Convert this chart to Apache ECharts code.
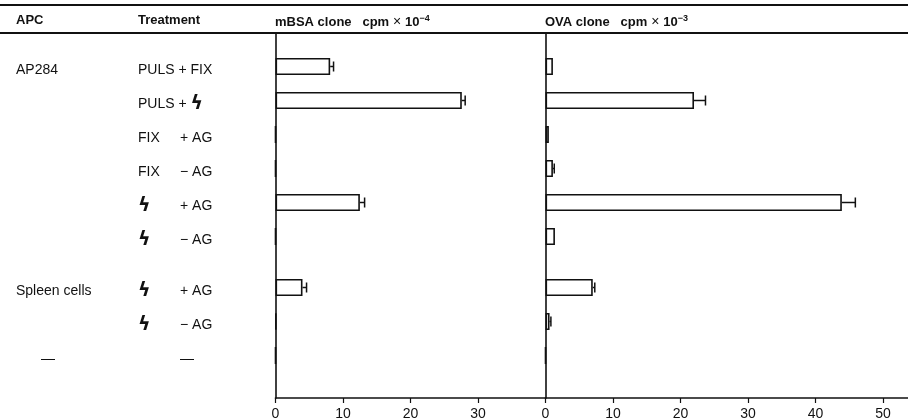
<!DOCTYPE html>
<html>
<head>
<meta charset="utf-8">
<script src="https://cdn.jsdelivr.net/npm/echarts@6/dist/echarts.min.js"></script>
<style>
  html, body { margin: 0; padding: 0; background: #fff; }
  #main { width: 908px; height: 420px; }
</style>
</head>
<body>
<div id="main"></div>
<script>
// rows, top to bottom
var apcLabels = ['AP284', '', '', '', '', '', 'Spleen cells', '', '—'];
var treatA = ['PULS + FIX', 'PULS + ϟ', 'FIX', 'FIX', 'ϟ', 'ϟ', 'ϟ', 'ϟ', ''];
var treatB = ['', '', '+ AG', '− AG', '+ AG', '− AG', '+ AG', '− AG', '—'];
var blocks = [6, 3]; // rows per APC group

// mBSA clone, cpm x 10^-4
var mbsa = [8.1, 27.6, 0, 0, 12.5, 0, 4.0, 0.1, 0];
var mbsaErr = [0.5, 0.5, 0, 0, 0.7, 0, 0.6, 0, 0];
// OVA clone, cpm x 10^-3
var ova = [1.1, 22.0, 0.5, 1.1, 43.9, 1.4, 7.0, 0.6, 0];
var ovaErr = [0, 1.7, 0, 0.2, 2.0, 0, 0.3, 0.2, 0];

var ticksMbsa = [0, 40, 10];
var ticksOva = [0, 53.7, 10];

// half-row slots on the category axis: two blank slots above, a spacer after each row,
// one extra spacer between the groups
var slots = ['p0', 'p1'];
var rowSlot = [];
var r = 0;
blocks.forEach(function (n, b) {
  for (var i = 0; i < n; i++) {
    rowSlot.push(slots.length);
    slots.push('r' + r);
    slots.push('s' + r);
    r++;
  }
  if (b < blocks.length - 1) slots.push('g' + b);
});
slots.push('end');

function toSlots(vals) {
  var out = slots.map(function () { return '-'; });
  vals.forEach(function (v, i) { out[rowSlot[i]] = v; });
  return out;
}
function errData(vals, errs) {
  var out = [];
  vals.forEach(function (v, i) {
    if (errs[i] > 0) out.push([v, rowSlot[i], errs[i]]);
  });
  return out;
}

function boltTok(style, s) {
  return s.split('ϟ').map(function (p) { return p ? '{' + style + '|' + p + '}' : ''; }).join('{z|ϟ}');
}

function rowLabel(key) {
  if (key.charAt(0) !== 'r') return '';
  var i = +key.slice(1);
  var s = '';
  if (apcLabels[i] === '—') s += '{sp| }{ad|—}';
  else s += '{a|' + (apcLabels[i] || ' ') + '}';
  if (treatB[i]) {
    if (treatA[i] === 'ϟ') s += '{zw|ϟ}';
    else s += '{tw|' + (treatA[i] || ' ') + '}';
    s += '{t|' + treatB[i] + '}';
  } else {
    s += boltTok('t', treatA[i]);
  }
  return s;
}

var ink = '#111';
var txt = { fontFamily: 'Liberation Sans, Arial, sans-serif', fontSize: 14, color: ink };

function errSeries(xi, data) {
  return {
    type: 'custom',
    xAxisIndex: xi,
    yAxisIndex: xi,
    data: data,
    encode: { x: 0, y: 1 },
    z: 5,
    renderItem: function (params, api) {
      var a = api.coord([api.value(0), api.value(1)]);
      var b = api.coord([api.value(0) + api.value(2), api.value(1)]);
      var st = { stroke: ink, lineWidth: 1.5 };
      return {
        type: 'group',
        children: [
          { type: 'line', shape: { x1: a[0], y1: a[1], x2: b[0], y2: b[1] }, style: st },
          { type: 'line', shape: { x1: b[0], y1: b[1] - 5, x2: b[0], y2: b[1] + 5 }, style: st }
        ]
      };
    }
  };
}

function barSeries(xi, vals) {
  return {
    type: 'bar',
    xAxisIndex: xi,
    yAxisIndex: xi,
    data: toSlots(vals),
    barWidth: 17,
    itemStyle: { color: '#fff', borderColor: ink, borderWidth: 1.6 },
    silent: true
  };
}

function xAxis(gi, t) {
  return {
    type: 'value',
    gridIndex: gi,
    min: t[0],
    max: t[1],
    interval: t[2],
    axisLine: { show: true, lineStyle: { color: ink, width: 1.6 } },
    axisTick: { show: true, length: 5, lineStyle: { color: ink, width: 1.2 } },
    axisLabel: { showMaxLabel: false, color: ink, fontSize: 14, margin: 9, fontFamily: txt.fontFamily },
    splitLine: { show: false }
  };
}

function yAxis(gi, labels) {
  return {
    type: 'category',
    gridIndex: gi,
    inverse: true,
    data: slots,
    axisLine: { show: true, lineStyle: { color: ink, width: 1.6 } },
    axisTick: { show: false },
    axisLabel: labels ? {
      show: true,
      interval: 0,
      align: 'left',
      margin: 259.5,
      padding: [8, 0, 0, 0],
      formatter: rowLabel,
      rich: {
        a: { width: 122, fontFamily: txt.fontFamily, fontSize: 14, color: ink },
        sp: { width: 25, fontSize: 14 },
        ad: { width: 97, fontFamily: txt.fontFamily, fontSize: 14, color: ink },
        t: { fontFamily: txt.fontFamily, fontSize: 14, color: ink },
        tw: { width: 42, fontFamily: txt.fontFamily, fontSize: 14, color: ink },
        z: { fontFamily: 'DejaVu Sans', fontWeight: 'bold', fontSize: 19, color: ink },
        zw: { width: 42, fontFamily: 'DejaVu Sans', fontWeight: 'bold', fontSize: 19, color: ink }
      }
    } : { show: false },
    splitLine: { show: false }
  };
}

var hdr = { fontFamily: txt.fontFamily, fontSize: 13, fontWeight: 'bold', fill: ink };
function headText(x, text, rich) {
  return { type: 'text', left: x, top: 14, z: 102, style: Object.assign({ text: text, rich: rich }, hdr) };
}
var cpmRich = {
  b: { fontFamily: txt.fontFamily, fontSize: 13, fontWeight: 'bold', color: ink },
  x: { fontFamily: txt.fontFamily, fontSize: 14, color: ink },
  sup: { fontFamily: txt.fontFamily, fontSize: 9, fontWeight: 'bold', color: ink, verticalAlign: 'top', padding: [0, 0, 8, 0] }
};

var chart = echarts.init(document.getElementById('main'), null, { renderer: 'canvas' });
chart.setOption({
  backgroundColor: '#fff',
  animation: false,
  grid: [
    { left: 275.5, top: 24, width: 270, height: 374, outerBoundsMode: 'none', containLabel: false },
    { left: 545.5, top: 24, right: 0, height: 374, outerBoundsMode: 'none', containLabel: false }
  ],
  xAxis: [xAxis(0, ticksMbsa), xAxis(1, ticksOva)],
  yAxis: [yAxis(0, true), yAxis(1, false)],
  series: [
    barSeries(0, mbsa),
    barSeries(1, ova),
    errSeries(0, errData(mbsa, mbsaErr)),
    errSeries(1, errData(ova, ovaErr))
  ],
  graphic: [
    { type: 'rect', shape: { x: 0, y: 20, width: 908, height: 12 }, style: { fill: '#fff' }, z: 100 },
    { type: 'line', shape: { x1: 0, y1: 5, x2: 908, y2: 5 }, style: { stroke: ink, lineWidth: 1.8 }, z: 101 },
    { type: 'line', shape: { x1: 0, y1: 33, x2: 908, y2: 33 }, style: { stroke: ink, lineWidth: 1.8 }, z: 101 },
    headText(16, 'APC'),
    headText(138, 'Treatment'),
    headText(275, '{b|mBSA clone}   {b|cpm}{x| × }{b|10}{sup|−4}', cpmRich),
    headText(545, '{b|OVA clone}   {b|cpm}{x| × }{b|10}{sup|−3}', cpmRich)
  ]
});
</script>
</body>
</html>
